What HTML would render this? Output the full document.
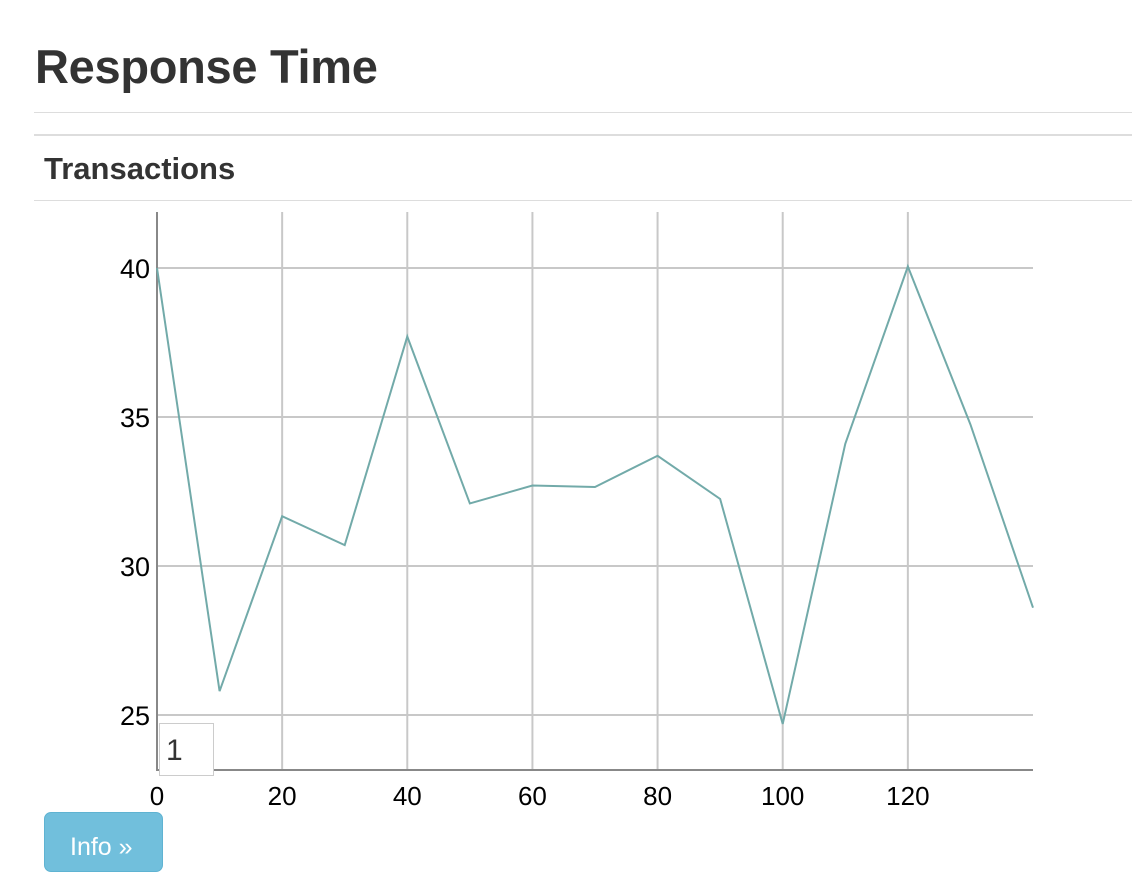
<!DOCTYPE html>
<html><head><meta charset="utf-8"><style>
body{margin:0;width:1132px;height:852px;overflow:hidden;background:#fff;font-family:"Liberation Sans",Arial,sans-serif;color:#333;position:relative}
h1{position:absolute;left:35px;top:40px;margin:0;font-size:47px;font-weight:bold;line-height:54px;letter-spacing:-0.3px}
.hr{position:absolute;left:34px;right:0;height:1px;background:#ddd}
h2{position:absolute;left:44px;top:152px;margin:0;font-size:31px;font-weight:bold;line-height:34px;letter-spacing:0px}
svg{position:absolute;left:0;top:0}
.inp{position:absolute;left:159px;top:723px;width:55px;height:53px;border:1px solid #ccc;background:#fff;font-size:30px;box-sizing:border-box;padding:10px 0 0 6px;color:#333}
.btn{position:absolute;left:44px;top:812px;width:119px;height:60px;background:#71bfdc;border-radius:7px;border:1px solid #5fb3d2;color:#fff;font-size:25px;box-sizing:border-box;padding:20px 0 0 25px}
</style></head><body>
<h1>Response Time</h1>
<div class="hr" style="top:112px"></div>
<div class="hr" style="top:134px;height:2px"></div>
<h2>Transactions</h2>
<div class="hr" style="top:200px"></div>
<svg id="chart" width="1132" height="852"></svg>
<div class="inp">1</div>
<div class="btn">Info »</div>
<script>
const xValues=[0,10,20,30,40,50,60,70,80,90,100,110,120,130,140];
const yValues=[40,25.8,31.67,30.7,37.7,32.1,32.7,32.65,33.7,32.25,24.7,34.1,40.05,34.75,28.6];
const xTicks=[0,20,40,60,80,100,120];
const yTicks=[25,30,35,40];
const NS="http://www.w3.org/2000/svg";
const svg=document.getElementById('chart');
const X=v=>157+(v-0)*(1033-157)/140;
const Y=v=>715-(v-25)*(715-268)/15;
function el(t,a){const e=document.createElementNS(NS,t);for(const k in a)e.setAttribute(k,a[k]);svg.appendChild(e);return e;}
xTicks.forEach(t=>{
 const g=el('line',{x1:X(t),x2:X(t),y1:212,y2:770,stroke:'#c8c8c8','stroke-width':2});
 
 
 const l=el('text',{x:X(t),y:805,'text-anchor':'middle','font-size':26,fill:'#000','font-family':'Liberation Sans, sans-serif'});
 l.textContent=t;
 
 
});
yTicks.forEach(t=>{
 const g=el('line',{x1:157,x2:1033,y1:Y(t),y2:Y(t),stroke:'#c8c8c8','stroke-width':2});
 
 
 const l=el('text',{x:150,y:Y(t)+10,'text-anchor':'end','font-size':27,fill:'#000','font-family':'Liberation Sans, sans-serif'});
 l.textContent=t;
 
 
});
const ya=el('line',{x1:157,x2:157,y1:212,y2:771,stroke:'#888','stroke-width':2});


const xa=el('line',{x1:156,x2:1033,y1:770,y2:770,stroke:'#888','stroke-width':2});


const pts=xValues.map((x,i)=>X(x)+','+Y(yValues[i])).join(' ');
const line=el('polyline',{points:pts,fill:'none',stroke:'#72aaa9','stroke-width':2});


</script>
</body></html>
